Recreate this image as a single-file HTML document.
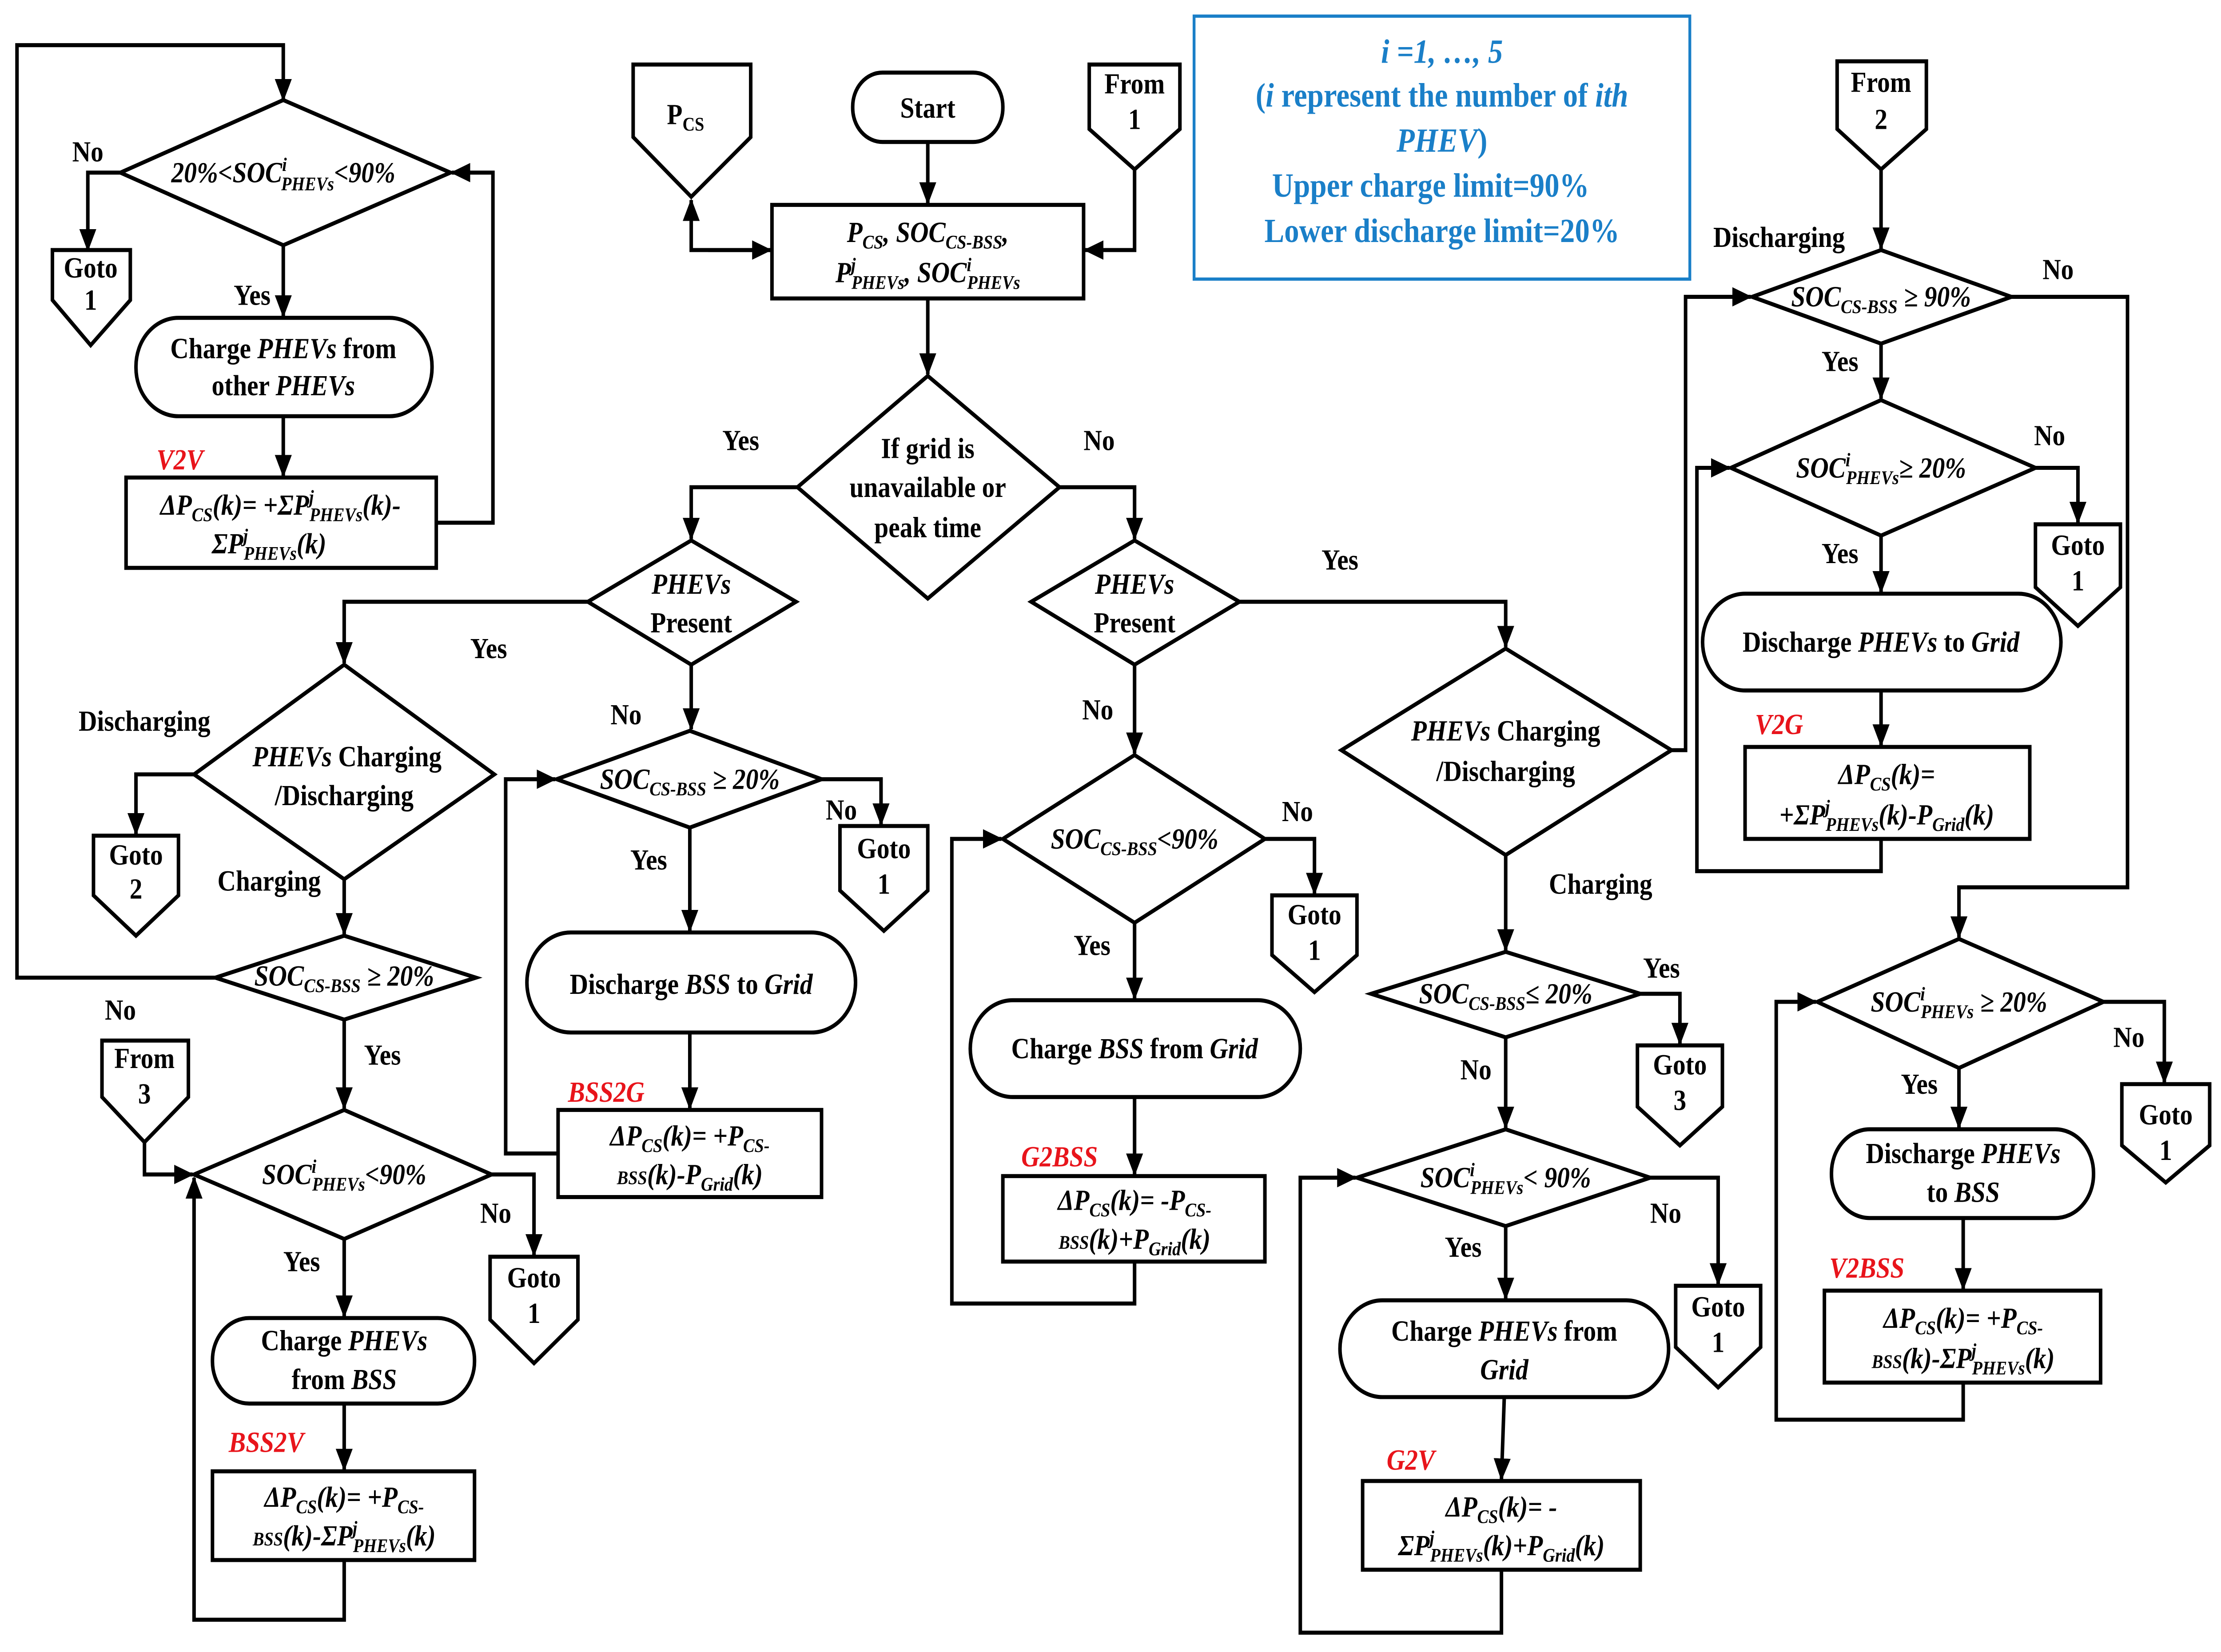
<!DOCTYPE html>
<html><head><meta charset="utf-8"><style>
html,body{margin:0;padding:0;background:#fff;width:100%;height:100%;overflow:hidden;}
svg{display:block;width:100vw;height:100vh;}
text{font-family:"Liberation Serif",serif;font-weight:bold;font-size:18px;text-anchor:middle;fill:#000;}
.i{font-style:italic;}
.s{font-size:12px;}
.r{fill:#e8141b;font-style:italic;}
.b{fill:#1a7fc8;font-size:21px;}
</style></head><body>
<svg viewBox="0 0 1568 1024" preserveAspectRatio="none" xmlns="http://www.w3.org/2000/svg">
<defs><marker id="a2" markerWidth="14" markerHeight="14" refX="13" refY="7" orient="auto" markerUnits="userSpaceOnUse"><path d="M0,1 L14,7 L0,13 z" fill="#000"/></marker></defs>
<g>
<g fill="none" stroke="#000" stroke-width="2.5">
<polyline points="152,606 12,606 12,28 200,28 200,62" marker-end="url(#a2)"/>
<polygon points="200,62 318,107 200,152 85,107" fill="#fff"/>
<polyline points="85,107 62,107 62,155" marker-end="url(#a2)"/>
<polygon points="37,155 92,155 92,186 64,214 37,186"/>
<line x1="200" y1="152" x2="200" y2="196" marker-end="url(#a2)"/>
<rect x="96" y="197" width="209" height="61" rx="30"/>
<line x1="200" y1="258" x2="200" y2="295" marker-end="url(#a2)"/>
<rect x="89" y="296" width="219" height="56"/>
<polyline points="308,324 348,324 348,107 319,107" marker-end="url(#a2)"/>
<polygon points="447,40 530,40 530,85 488,122 447,85"/>
<rect x="602" y="45" width="106" height="43" rx="21"/>
<line x1="655" y1="88" x2="655" y2="126" marker-end="url(#a2)"/>
<polygon points="769,40 833,40 833,80 801,105 769,80"/>
<polyline points="801,105 801,155 766,155" marker-end="url(#a2)"/>
<rect x="545" y="127" width="220" height="58"/>
<polyline points="544,155 488,155 488,124" marker-end="url(#a2)"/>
<line x1="500" y1="155" x2="544" y2="155" marker-end="url(#a2)"/>
<line x1="655" y1="185" x2="655" y2="232" marker-end="url(#a2)"/>
<polygon points="655,233 748,302 655,371 563,302"/>
<polyline points="563,302 488,302 488,334" marker-end="url(#a2)"/>
<polyline points="748,302 801,302 801,334" marker-end="url(#a2)"/>
<rect x="843" y="10" width="350" height="163" stroke="#1a7fc8" stroke-width="2"/>
<polygon points="488,335 562,373 488,412 415,373"/>
<polyline points="415,373 243,373 243,411" marker-end="url(#a2)"/>
<polygon points="243,412 349,480 243,545 137,480"/>
<polyline points="137,480 96,480 96,517" marker-end="url(#a2)"/>
<polygon points="66,518 126,518 126,555 96,580 66,555"/>
<line x1="243" y1="545" x2="243" y2="579" marker-end="url(#a2)"/>
<polygon points="243,580 336,606 243,632 152,606" fill="#fff"/>
<line x1="243" y1="632" x2="243" y2="687" marker-end="url(#a2)"/>
<polygon points="72,645 133,645 133,680 102,708 72,680"/>
<polyline points="102,708 102,728 136,728" marker-end="url(#a2)"/>
<polygon points="243,688 347,728 243,768 137,728"/>
<polyline points="347,728 377,728 377,778" marker-end="url(#a2)"/>
<polygon points="346,779 408,779 408,818 377,845 346,818"/>
<line x1="243" y1="768" x2="243" y2="816" marker-end="url(#a2)"/>
<rect x="150" y="817" width="185" height="53" rx="26"/>
<line x1="243" y1="870" x2="243" y2="911" marker-end="url(#a2)"/>
<rect x="150" y="912" width="185" height="55"/>
<polyline points="243,967 243,1004 137,1004 137,730" marker-end="url(#a2)"/>
<line x1="488" y1="412" x2="488" y2="452" marker-end="url(#a2)"/>
<polygon points="487,453 580,483 487,513 393,483"/>
<polyline points="580,483 622,483 622,511" marker-end="url(#a2)"/>
<polygon points="593,512 655,512 655,552 624,577 593,552"/>
<line x1="487" y1="513" x2="487" y2="577" marker-end="url(#a2)"/>
<rect x="372" y="578" width="232" height="62" rx="31"/>
<line x1="487" y1="640" x2="487" y2="687" marker-end="url(#a2)"/>
<rect x="394" y="688" width="186" height="54"/>
<polyline points="394,715 357,715 357,483 392,483" marker-end="url(#a2)"/>
<polygon points="801,335 875,373 801,412 728,373"/>
<line x1="801" y1="412" x2="801" y2="467" marker-end="url(#a2)"/>
<polygon points="801,468 893,520 801,572 708,520"/>
<polyline points="893,520 928,520 928,554" marker-end="url(#a2)"/>
<polygon points="898,555 958,555 958,592 928,615 898,592"/>
<line x1="801" y1="572" x2="801" y2="619" marker-end="url(#a2)"/>
<rect x="685" y="620" width="233" height="60" rx="30"/>
<line x1="801" y1="680" x2="801" y2="728" marker-end="url(#a2)"/>
<rect x="708" y="729" width="185" height="53"/>
<polyline points="801,782 801,808 672,808 672,520 707,520" marker-end="url(#a2)"/>
<polyline points="875,373 1063,373 1063,401" marker-end="url(#a2)"/>
<polygon points="1063,402 1180,465 1063,530 947,465"/>
<polyline points="1180,465 1190,465 1190,184 1236,184" marker-end="url(#a2)"/>
<line x1="1063" y1="530" x2="1063" y2="589" marker-end="url(#a2)"/>
<polygon points="1063,590 1158,616 1063,643 968,616"/>
<polyline points="1158,616 1186,616 1186,647" marker-end="url(#a2)"/>
<polygon points="1156,648 1216,648 1216,686 1186,710 1156,686"/>
<line x1="1063" y1="643" x2="1063" y2="699" marker-end="url(#a2)"/>
<polygon points="1063,700 1165,730 1063,760 958,730"/>
<polyline points="1165,730 1213,730 1213,796" marker-end="url(#a2)"/>
<polygon points="1183,797 1243,797 1243,835 1213,860 1183,835"/>
<line x1="1063" y1="760" x2="1063" y2="805" marker-end="url(#a2)"/>
<rect x="946" y="806" width="232" height="60" rx="30"/>
<line x1="1062" y1="866" x2="1060" y2="917" marker-end="url(#a2)"/>
<rect x="962" y="918" width="196" height="55"/>
<polyline points="1060,973 1060,1012 918,1012 918,730 957,730" marker-end="url(#a2)"/>
<polygon points="1297,38 1360,38 1360,80 1328,105 1297,80"/>
<line x1="1328" y1="105" x2="1328" y2="154" marker-end="url(#a2)"/>
<polygon points="1328,155 1420,184 1328,213 1237,184"/>
<polyline points="1420,184 1502,184 1502,550 1383,550 1383,581" marker-end="url(#a2)"/>
<line x1="1328" y1="213" x2="1328" y2="247" marker-end="url(#a2)"/>
<polygon points="1328,248 1437,290 1328,332 1222,290"/>
<polyline points="1437,290 1467,290 1467,324" marker-end="url(#a2)"/>
<polygon points="1437,325 1497,325 1497,364 1467,388 1437,364"/>
<line x1="1328" y1="332" x2="1328" y2="367" marker-end="url(#a2)"/>
<rect x="1202" y="368" width="253" height="60" rx="30"/>
<line x1="1328" y1="428" x2="1328" y2="462" marker-end="url(#a2)"/>
<rect x="1232" y="463" width="201" height="57"/>
<polyline points="1328,520 1328,540 1198,540 1198,290 1221,290" marker-end="url(#a2)"/>
<polygon points="1383,582 1485,621 1383,662 1283,621"/>
<polyline points="1485,621 1528,621 1528,671" marker-end="url(#a2)"/>
<polygon points="1498,672 1560,672 1560,710 1529,733 1498,710"/>
<line x1="1383" y1="662" x2="1383" y2="699" marker-end="url(#a2)"/>
<rect x="1293" y="700" width="185" height="55" rx="27"/>
<line x1="1386" y1="755" x2="1386" y2="799" marker-end="url(#a2)"/>
<rect x="1288" y="800" width="195" height="57"/>
<polyline points="1386,857 1386,880 1254,880 1254,621 1282,621" marker-end="url(#a2)"/>
</g>

<text x="62" y="100">No</text>
<text x="200" y="113"><tspan class="i">20%&lt;SOC</tspan><tspan class="s i" dy="-7">i</tspan><tspan class="s i" dx="-4" dy="12">PHEVs</tspan><tspan class="i" dy="-5">&lt;90%</tspan></text>
<text x="64" y="172">Goto</text><text x="64" y="192">1</text>
<text x="178" y="189">Yes</text>
<text x="200" y="222">Charge <tspan class="i">PHEVs</tspan> from</text>
<text x="200" y="245">other <tspan class="i">PHEVs</tspan></text>
<text x="127" y="291" class="r">V2V</text>
<text x="198" y="319" class="i">ΔP<tspan class="s" dy="4">CS</tspan><tspan dy="-4">(k)= +ΣP</tspan><tspan class="s" dy="-7">j</tspan><tspan class="s" dx="-3" dy="11">PHEVs</tspan><tspan dy="-4">(k)-</tspan></text>
<text x="190" y="343" class="i">ΣP<tspan class="s" dy="-7">j</tspan><tspan class="s" dx="-3" dy="11">PHEVs</tspan><tspan dy="-4">(k)</tspan></text>

<text x="484" y="77">P<tspan class="s" dy="4">CS</tspan></text>
<text x="655" y="73">Start</text>
<text x="801" y="58">From</text><text x="801" y="80">1</text>
<text x="655" y="150" class="i">P<tspan class="s" dy="4">CS</tspan><tspan dy="-4">, SOC</tspan><tspan class="s" dy="4">CS-BSS</tspan><tspan dy="-4">,</tspan></text>
<text x="655" y="175" class="i">P<tspan class="s" dy="-7">j</tspan><tspan class="s" dx="-3" dy="11">PHEVs</tspan><tspan dy="-4">, SOC</tspan><tspan class="s" dy="-7">i</tspan><tspan class="s" dx="-3" dy="11">PHEVs</tspan></text>
<text x="655" y="284">If grid is</text>
<text x="655" y="308">unavailable or</text>
<text x="655" y="333">peak time</text>
<text x="523" y="279">Yes</text>
<text x="776" y="279">No</text>

<text x="1018" y="39" class="b i">i =1, …, 5</text>
<text x="1018" y="66" class="b">(<tspan class="i">i</tspan> represent the number of <tspan class="i">ith</tspan></text>
<text x="1018" y="94" class="b i">PHEV<tspan font-style="normal">)</tspan></text>
<text x="1010" y="122" class="b">Upper charge limit=90%</text>
<text x="1018" y="150" class="b">Lower discharge limit=20%</text>

<text x="488" y="368" class="i">PHEVs</text><text x="488" y="392">Present</text>
<text x="345" y="408">Yes</text>
<text x="102" y="453">Discharging</text>
<text x="245" y="475"><tspan class="i">PHEVs</tspan> Charging</text>
<text x="243" y="499">/Discharging</text>
<text x="96" y="536">Goto</text><text x="96" y="557">2</text>
<text x="190" y="552">Charging</text>
<text x="243" y="611" class="i">SOC<tspan class="s" dy="4">CS-BSS</tspan><tspan dy="-4"> ≥ 20%</tspan></text>
<text x="85" y="632">No</text>
<text x="270" y="660">Yes</text>
<text x="102" y="662">From</text><text x="102" y="684">3</text>
<text x="243" y="734" class="i">SOC<tspan class="s" dy="-7">i</tspan><tspan class="s" dx="-3" dy="11">PHEVs</tspan><tspan dy="-4">&lt;90%</tspan></text>
<text x="350" y="758">No</text>
<text x="377" y="798">Goto</text><text x="377" y="820">1</text>
<text x="213" y="788">Yes</text>
<text x="243" y="837">Charge <tspan class="i">PHEVs</tspan></text>
<text x="243" y="861">from <tspan class="i">BSS</tspan></text>
<text x="188" y="900" class="r">BSS2V</text>
<text x="243" y="934" class="i">ΔP<tspan class="s" dy="4">CS</tspan><tspan dy="-4">(k)= +P</tspan><tspan class="s" dy="4">CS-</tspan></text>
<text x="243" y="958" class="i"><tspan class="s">BSS</tspan>(k)-ΣP<tspan class="s" dy="-7">j</tspan><tspan class="s" dx="-3" dy="11">PHEVs</tspan><tspan dy="-4">(k)</tspan></text>

<text x="442" y="449">No</text>
<text x="487" y="489" class="i">SOC<tspan class="s" dy="4">CS-BSS</tspan><tspan dy="-4"> ≥ 20%</tspan></text>
<text x="594" y="508">No</text>
<text x="624" y="532">Goto</text><text x="624" y="554">1</text>
<text x="458" y="539">Yes</text>
<text x="488" y="616">Discharge <tspan class="i">BSS</tspan> to <tspan class="i">Grid</tspan></text>
<text x="428" y="683" class="r">BSS2G</text>
<text x="487" y="710" class="i">ΔP<tspan class="s" dy="4">CS</tspan><tspan dy="-4">(k)= +P</tspan><tspan class="s" dy="4">CS-</tspan></text>
<text x="487" y="734" class="i"><tspan class="s">BSS</tspan>(k)-P<tspan class="s" dy="4">Grid</tspan><tspan dy="-4">(k)</tspan></text>

<text x="801" y="368" class="i">PHEVs</text><text x="801" y="392">Present</text>
<text x="946" y="353">Yes</text>
<text x="775" y="446">No</text>
<text x="801" y="526" class="i">SOC<tspan class="s" dy="4">CS-BSS</tspan><tspan dy="-4">&lt;90%</tspan></text>
<text x="916" y="509">No</text>
<text x="928" y="573">Goto</text><text x="928" y="595">1</text>
<text x="771" y="592">Yes</text>
<text x="801" y="656">Charge <tspan class="i">BSS</tspan> from <tspan class="i">Grid</tspan></text>
<text x="748" y="723" class="r">G2BSS</text>
<text x="801" y="750" class="i">ΔP<tspan class="s" dy="4">CS</tspan><tspan dy="-4">(k)= -P</tspan><tspan class="s" dy="4">CS-</tspan></text>
<text x="801" y="774" class="i"><tspan class="s">BSS</tspan>(k)+P<tspan class="s" dy="4">Grid</tspan><tspan dy="-4">(k)</tspan></text>

<text x="1063" y="459"><tspan class="i">PHEVs</tspan> Charging</text>
<text x="1063" y="484">/Discharging</text>
<text x="1130" y="554">Charging</text>
<text x="1063" y="622" class="i">SOC<tspan class="s" dy="4">CS-BSS</tspan><tspan dy="-4">≤ 20%</tspan></text>
<text x="1173" y="606">Yes</text>
<text x="1186" y="666">Goto</text><text x="1186" y="688">3</text>
<text x="1042" y="669">No</text>
<text x="1063" y="736" class="i">SOC<tspan class="s" dy="-7">i</tspan><tspan class="s" dx="-3" dy="11">PHEVs</tspan><tspan dy="-4">&lt; 90%</tspan></text>
<text x="1176" y="758">No</text>
<text x="1213" y="816">Goto</text><text x="1213" y="838">1</text>
<text x="1033" y="779">Yes</text>
<text x="1062" y="831">Charge <tspan class="i">PHEVs</tspan> from</text>
<text x="1062" y="855" class="i">Grid</text>
<text x="996" y="911" class="r">G2V</text>
<text x="1060" y="940" class="i">ΔP<tspan class="s" dy="4">CS</tspan><tspan dy="-4">(k)= -</tspan></text>
<text x="1060" y="964" class="i">ΣP<tspan class="s" dy="-7">j</tspan><tspan class="s" dx="-3" dy="11">PHEVs</tspan><tspan dy="-4">(k)+P</tspan><tspan class="s" dy="4">Grid</tspan><tspan dy="-4">(k)</tspan></text>

<text x="1328" y="57">From</text><text x="1328" y="80">2</text>
<text x="1256" y="153">Discharging</text>
<text x="1328" y="190" class="i">SOC<tspan class="s" dy="4">CS-BSS</tspan><tspan dy="-4"> ≥  90%</tspan></text>
<text x="1453" y="173">No</text>
<text x="1299" y="230">Yes</text>
<text x="1328" y="296" class="i">SOC<tspan class="s" dy="-7">i</tspan><tspan class="s" dx="-3" dy="11">PHEVs</tspan><tspan dy="-4">≥ 20%</tspan></text>
<text x="1447" y="276">No</text>
<text x="1467" y="344">Goto</text><text x="1467" y="366">1</text>
<text x="1299" y="349">Yes</text>
<text x="1328" y="404">Discharge <tspan class="i">PHEVs</tspan> to <tspan class="i">Grid</tspan></text>
<text x="1256" y="455" class="r">V2G</text>
<text x="1332" y="486" class="i">ΔP<tspan class="s" dy="4">CS</tspan><tspan dy="-4">(k)=</tspan></text>
<text x="1332" y="511" class="i">+ΣP<tspan class="s" dy="-7">j</tspan><tspan class="s" dx="-3" dy="11">PHEVs</tspan><tspan dy="-4">(k)-P</tspan><tspan class="s" dy="4">Grid</tspan><tspan dy="-4">(k)</tspan></text>
<text x="1383" y="627" class="i">SOC<tspan class="s" dy="-7">i</tspan><tspan class="s" dx="-3" dy="11">PHEVs</tspan><tspan dy="-4"> ≥ 20%</tspan></text>
<text x="1503" y="649">No</text>
<text x="1529" y="697">Goto</text><text x="1529" y="719">1</text>
<text x="1355" y="678">Yes</text>
<text x="1386" y="721">Discharge <tspan class="i">PHEVs</tspan></text>
<text x="1386" y="745">to <tspan class="i">BSS</tspan></text>
<text x="1318" y="792" class="r">V2BSS</text>
<text x="1386" y="823" class="i">ΔP<tspan class="s" dy="4">CS</tspan><tspan dy="-4">(k)=  +P</tspan><tspan class="s" dy="4">CS-</tspan></text>
<text x="1386" y="848" class="i"><tspan class="s">BSS</tspan>(k)-ΣP<tspan class="s" dy="-7">j</tspan><tspan class="s" dx="-3" dy="11">PHEVs</tspan><tspan dy="-4">(k)</tspan></text>
</g>
</svg>
</body></html>
